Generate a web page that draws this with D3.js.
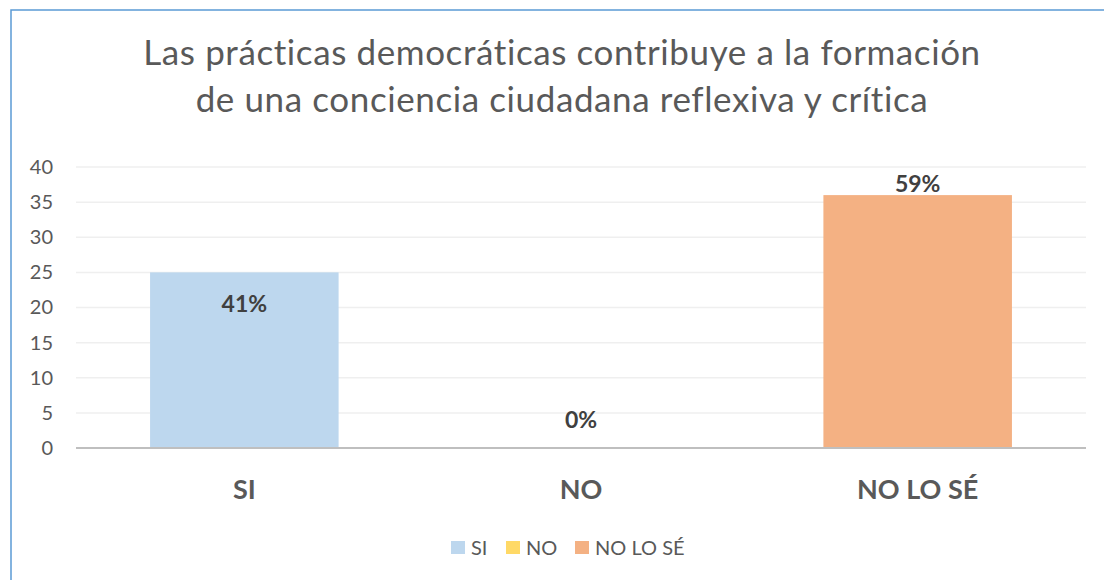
<!DOCTYPE html>
<html>
<head>
<meta charset="utf-8">
<script src="https://cdn.jsdelivr.net/npm/d3@7"></script>
<style>
  body { margin: 0; background: #fff; overflow: hidden; }
  svg { display: block; }
  svg text { font-family: Lato, "Open Sans", sans-serif; }
</style>
</head>
<body>
<div id="chart"></div>
<script>
// Chart data
const categories = ["SI", "NO", "NO LO SÉ"];
const counts = [25, 0, 36];
const percentLabels = ["41%", "0%", "59%"];
const colors = ["#bdd7ee", "#ffd966", "#f4b183"];
const yTicks = [0, 5, 10, 15, 20, 25, 30, 35, 40];
const titleLines = [
  "Las prácticas democráticas contribuye a la formación",
  "de una conciencia ciudadana reflexiva y crítica"
];

const W = 1104, H = 580;
const margin = { top: 167, right: 18, bottom: 132, left: 76 };
const width = W - margin.left - margin.right;
const height = H - margin.top - margin.bottom;

const svg = d3.select("#chart")
  .append("svg")
    .attr("width", W)
    .attr("height", H);

// Outer frame: only the left and top edges show in the picture
svg.append("path")
    .attr("d", `M11,${H} V10 H${W}`)
    .attr("fill", "none")
    .attr("stroke", "#5b9bd5")
    .attr("stroke-width", 1.5);

// Title
svg.append("text")
    .attr("x", 562)
    .attr("y", 65)
    .attr("text-anchor", "middle")
    .attr("fill", "#595959")
    .style("font-size", "35px")
    .style("letter-spacing", "0.6px")
    .selectAll("tspan")
    .data(titleLines)
    .join("tspan")
      .attr("x", 562)
      .attr("dy", (d, i) => i === 0 ? 0 : 47)
      .text(d => d);

const x = d3.scaleBand()
    .domain(categories)
    .range([0, width])
    .paddingInner(0.44)
    .paddingOuter(0.22);
const y = d3.scaleLinear().domain([0, 40]).range([height, 0]);

const g = svg.append("g")
    .attr("transform", `translate(${margin.left},${margin.top})`);

// Gridlines
g.append("g")
  .selectAll("line")
  .data(yTicks.filter(d => d > 0))
  .join("line")
    .attr("x1", 0)
    .attr("x2", width)
    .attr("y1", d => y(d))
    .attr("y2", d => y(d))
    .attr("stroke", "#efefef")
    .attr("stroke-width", 1.5);

// Y axis
const yAxis = g.append("g")
    .call(d3.axisLeft(y).tickValues(yTicks).tickSize(0).tickPadding(23));
yAxis.select(".domain").remove();
yAxis.selectAll("text")
    .attr("fill", "#595959")
    .style("font-size", "20px");

// Bars
g.selectAll(".bar")
  .data(categories)
  .join("rect")
    .attr("class", "bar")
    .attr("x", d => x(d))
    .attr("width", x.bandwidth())
    .attr("y", (d, i) => y(counts[i]))
    .attr("height", (d, i) => height - y(counts[i]))
    .attr("fill", (d, i) => colors[i]);

// Baseline
g.append("line")
    .attr("x1", 0)
    .attr("x2", width)
    .attr("y1", height)
    .attr("y2", height)
    .attr("stroke", "#bfbfbf")
    .attr("stroke-width", 2);

// Data labels: SI inside the bar top, the others just above
const labelDy = [40, -20, -3];
g.selectAll(".lbl")
  .data(categories)
  .join("text")
    .attr("class", "lbl")
    .attr("x", d => x(d) + x.bandwidth() / 2)
    .attr("y", (d, i) => y(counts[i]) + labelDy[i])
    .attr("text-anchor", "middle")
    .attr("fill", "#404040")
    .style("font-size", "23px")
    .style("font-weight", "bold")
    .text((d, i) => percentLabels[i]);

// X axis category labels
const xAxis = g.append("g")
    .attr("transform", `translate(0,${height})`)
    .call(d3.axisBottom(x).tickSize(0).tickPadding(32));
xAxis.select(".domain").remove();
xAxis.selectAll("text")
    .attr("fill", "#595959")
    .style("font-size", "27px")
    .style("font-weight", "bold");

// Legend
const legendX = [451, 506, 575];
const legend = svg.append("g").attr("transform", "translate(0,541)");
const item = legend.selectAll("g")
  .data(categories)
  .join("g")
    .attr("transform", (d, i) => `translate(${legendX[i]},0)`);
item.append("rect")
    .attr("width", 14)
    .attr("height", 13)
    .attr("fill", (d, i) => colors[i]);
item.append("text")
    .attr("x", 20)
    .attr("y", 14)
    .attr("fill", "#595959")
    .style("font-size", "20px")
    .text(d => d);
</script>
</body>
</html>
